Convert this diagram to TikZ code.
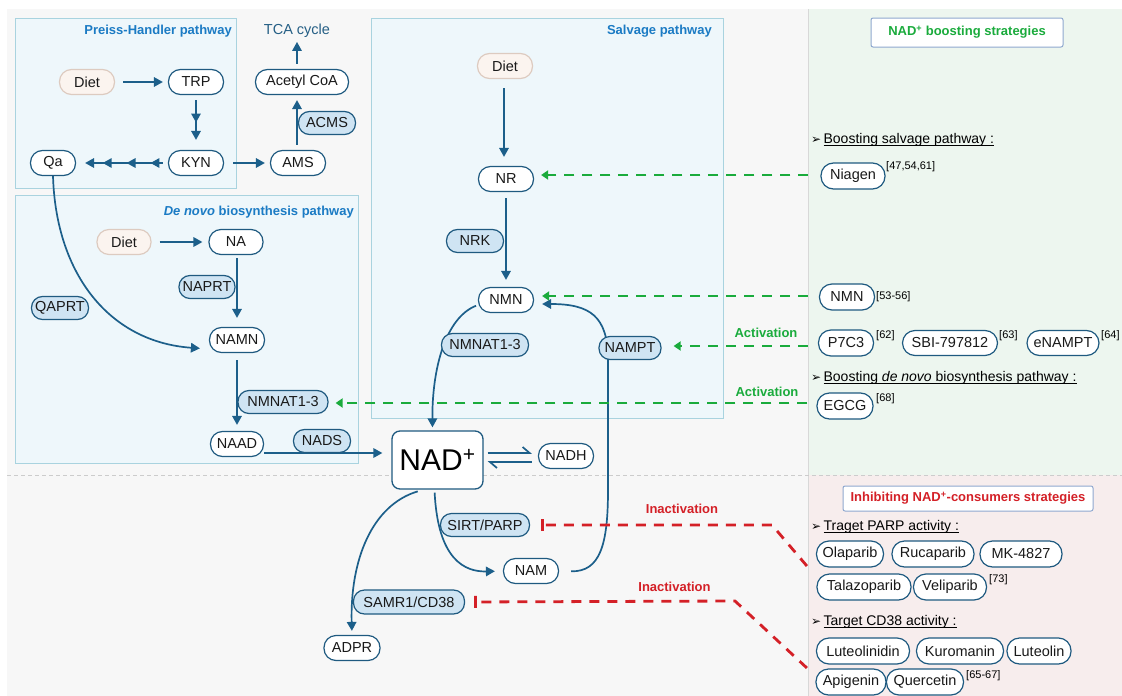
\documentclass[tikz,border=0pt]{standalone}
\usepackage{fontspec}
\setmainfont{Liberation Sans}
\newfontfamily\dejavu{DejaVu Sans}
\usetikzlibrary{arrows.meta,decorations.markings,calc}
\newcommand\ulx[1]{\setbox0\hbox{#1}\rlap{\rule[-2pt]{\wd0}{0.7pt}}\box0}
\newcommand\bul{{\dejavu\fontsize{12}{12}\selectfont ➢}\,}
\pgfdeclarelayer{bg}
\pgfdeclarelayer{conn}
\pgfsetlayers{bg,conn,main}
\definecolor{nb}{HTML}{1F5A80}
\definecolor{ab}{HTML}{1C5F8A}
\definecolor{enz}{HTML}{CFE4F3}
\definecolor{boxf}{HTML}{EEF7FB}
\definecolor{boxd}{HTML}{A9D3DF}
\definecolor{ttl}{HTML}{1B7BC4}
\definecolor{gr}{HTML}{1AAB3C}
\definecolor{rd}{HTML}{D42027}
\definecolor{bgc}{HTML}{F7F7F7}
\definecolor{gpan}{HTML}{EDF6EF}
\definecolor{ppan}{HTML}{F7EDED}
\definecolor{dietf}{HTML}{FBF4EF}
\definecolor{dietd}{HTML}{DDCBC0}
\definecolor{hdrd}{HTML}{8FA8CF}
\definecolor{tca}{HTML}{255F85}
\definecolor{sepc}{HTML}{D8D8D8}
\tikzset{ftip/.tip={Triangle[length=9pt,width=9.5pt]}}
\begin{document}
\begin{tikzpicture}[x=1pt,y=-1pt,
  pill/.style={draw=nb, line width=1.2pt, fill=white, rounded corners=12pt,
    minimum height=25pt, inner sep=0pt, text=black!90, font=\fontsize{14.5}{16}\selectfont},
  enzyme/.style={pill, fill=enz, minimum height=23pt, rounded corners=11pt},
  diet/.style={pill, fill=dietf, draw=dietd},
  rpill/.style={pill, minimum height=26pt, rounded corners=12.5pt},
  sup/.style={inner sep=0pt, anchor=west, font=\fontsize{11}{12}\selectfont},
  ttlstyle/.style={inner sep=0pt, anchor=east, text=ttl, font=\fontsize{13}{15}\selectfont\bfseries},
  pbox/.style={fill=boxf, draw=boxd, line width=1pt},
  hdr/.style={draw=hdrd, line width=1pt, fill=white, rounded corners=2pt, inner sep=0pt,
    font=\fontsize{13}{15}\selectfont\bfseries},
  sect/.style={inner sep=0pt, anchor=west, font=\fontsize{14}{16}\selectfont},
  flow/.style={draw=ab, line width=1.7pt, -ftip},
  actv/.style={draw=gr, line width=2.8pt, dash pattern=on 10pt off 8pt, -{Triangle[length=7pt,width=9pt]}},
  inhib/.style={draw=rd, line width=2.8pt, dash pattern=on 10pt off 8pt, -{Bar[width=12pt]}},
  lbl/.style={inner sep=0pt, font=\fontsize{13}{15}\selectfont\bfseries}
]
\useasboundingbox (0,0) rectangle (1122,696);
\begin{pgfonlayer}{bg}
\fill[white] (0,0) rectangle (1122,696);
\fill[bgc] (7,9) rectangle (808,696);
\fill[gpan] (808,9) rectangle (1122,475);
\fill[ppan] (808,475) rectangle (1122,696);
\draw[sepc, line width=1pt] (808,9) -- (808,696);
\draw[black!20, dash pattern=on 4pt off 3pt, line width=0.8pt] (7,475) -- (1122,475);
\draw[pbox] (15,18) rectangle (236,188);
\draw[pbox] (15,195) rectangle (358,463);
\draw[pbox] (371,18) rectangle (723,418);
\end{pgfonlayer}

% titles
\node[ttlstyle] (tPH) at (232,31) {Preiss-Handler pathway};
\node[ttlstyle] (tDN) at (354,212) {\textit{De novo} biosynthesis pathway};
\node[ttlstyle] (tSV) at (712,31) {Salvage pathway};
\node[inner sep=0pt, text=tca, font=\fontsize{14.5}{16}\selectfont] (tca) at (297,31) {TCA cycle};

% Preiss-Handler
\node[diet, minimum width=55pt] (diet1) at (87,82) {Diet};
\node[pill, minimum width=55pt] (TRP) at (196,82) {TRP};
\node[pill, minimum width=55pt] (KYN) at (196,163) {KYN};
\node[pill, minimum width=45pt] (Qa) at (53,163) {Qa};
\node[pill, minimum width=55pt] (AMS) at (298,163) {AMS};
\node[pill, minimum width=93pt] (ACoA) at (302,82) {Acetyl CoA};
\node[enzyme, minimum width=57pt] (ACMS) at (327,123) {ACMS};

% De novo
\node[diet, minimum width=54pt] (diet2) at (124,242) {Diet};
\node[pill, minimum width=54pt] (NA) at (236,242) {NA};
\node[enzyme, minimum width=56pt] (NAPRT) at (207,287) {NAPRT};
\node[pill, minimum width=55pt] (NAMN) at (237,340) {NAMN};
\node[enzyme, minimum width=57pt] (QAPRT) at (60,308) {QAPRT};
\node[enzyme, minimum width=90pt] (NMNATd) at (283,402) {NMNAT1-3};
\node[pill, minimum width=53pt] (NAAD) at (237,444) {NAAD};
\node[enzyme, minimum width=57pt] (NADS) at (322,441) {NADS};

% Salvage
\node[diet, minimum width=55pt] (diet3) at (505,66) {Diet};
\node[pill, minimum width=55pt] (NR) at (506,179) {NR};
\node[enzyme, minimum width=57pt] (NRK) at (475,241) {NRK};
\node[pill, minimum width=55pt] (NMN) at (506,300) {NMN};
\node[enzyme, minimum width=87pt] (NMNATs) at (485,345) {NMNAT1-3};
\node[enzyme, minimum width=62pt] (NAMPT) at (630,348) {NAMPT};

% Centre
\node[draw=nb, line width=1.3pt, fill=white, rounded corners=8pt, minimum width=91pt,
  minimum height=58pt, inner sep=0pt, font=\fontsize{30}{32}\selectfont] (NAD) at (437.5,460) {NAD\textsuperscript{+}};
\node[pill, minimum width=55pt] (NADH) at (566,456) {NADH};
\node[enzyme, minimum width=89pt] (SIRT) at (485,525) {SIRT/PARP};
\node[pill, minimum width=55pt] (NAM) at (531,571) {NAM};
\node[enzyme, minimum width=111pt, minimum height=24pt] (SAMR) at (409,602) {SAMR1/CD38};
\node[pill, minimum width=56pt] (ADPR) at (352,648) {ADPR};

% Right green panel
\node[hdr, text=gr, minimum width=192pt, minimum height=29pt] (hG) at (967,32.5) {NAD\textsuperscript{+} boosting strategies};
\node[sect] (s1) at (811,140) {\bul\ulx{Boosting salvage pathway :}};
\node[rpill, minimum width=64pt] (Niagen) at (853,176) {Niagen};
\node[sup] (r1) at (886,167) {[47,54,61]};
\node[rpill, minimum width=55pt] (NMNr) at (847,297) {NMN};
\node[sup] (r2) at (876,297) {[53-56]};
\node[rpill, minimum width=55pt] (P7C3) at (846,343) {P7C3};
\node[sup] (r3) at (876,336) {[62]};
\node[rpill, minimum width=95pt, minimum height=25pt] (SBI) at (950,343) {SBI-797812};
\node[sup] (r4) at (999,336) {[63]};
\node[rpill, minimum width=72pt, minimum height=25pt] (eNAMPT) at (1063,343) {eNAMPT};
\node[sup] (r5) at (1101,336) {[64]};
\node[sect] (s2) at (811,378) {\bul\ulx{Boosting {\itshape de novo} biosynthesis pathway :}};
\node[rpill, minimum width=56pt] (EGCG) at (845,406) {EGCG};
\node[sup] (r6) at (876,399) {[68]};

% Right pink panel
\node[hdr, text=rd, minimum width=250pt, minimum height=25pt] (hR) at (968,498.5) {Inhibiting NAD\textsuperscript{+}-consumers strategies};
\node[sect] (s3) at (811,527) {\bul\ulx{Traget PARP activity :}};
\node[rpill, minimum width=67pt] (Olap) at (850,554) {Olaparib};
\node[rpill, minimum width=82pt] (Ruca) at (933,554) {Rucaparib};
\node[rpill, minimum width=82pt] (MK) at (1021,554) {MK-4827};
\node[rpill, minimum width=94pt] (Tala) at (864,587) {Talazoparib};
\node[rpill, minimum width=73pt] (Veli) at (950,587) {Veliparib};
\node[sup] (r7) at (989,580) {[73]};
\node[sect] (s4) at (811,622) {\bul\ulx{Target CD38 activity :}};
\node[rpill, minimum width=93pt] (Lutn) at (863,651) {Luteolinidin};
\node[rpill, minimum width=87pt] (Kuro) at (960,651) {Kuromanin};
\node[rpill, minimum width=64pt] (Lute) at (1039,651) {Luteolin};
\node[rpill, minimum width=70pt] (Apig) at (851,682) {Apigenin};
\node[rpill, minimum width=77pt] (Quer) at (925,682) {Quercetin};
\node[sup] (r8) at (966,676) {[65-67]};

% labels
\node[lbl, text=gr] (a1) at (766,333) {Activation};
\node[lbl, text=gr] (a2) at (767,392) {Activation};
\node[lbl, text=rd] (i1) at (682,509) {Inactivation};
\node[lbl, text=rd] (i2) at (674.5,587) {Inactivation};

\coordinate (c1) at (608,490);
\coordinate (c2) at (608,360);
\coordinate (k1) at (772,525);
\coordinate (k2) at (735,601);

\begin{pgfonlayer}{conn}
% Preiss-Handler
\draw[flow, shorten <=8pt, shorten >=5pt] (diet1.east) -- (TRP.west);
\draw[flow, shorten <=5pt, shorten >=10pt,
  postaction={decorate}, decoration={markings, mark=at position 0.5 with {\arrow{ftip}}}] (TRP.south) -- (KYN.north);
\draw[flow, shorten <=5pt, shorten >=9pt,
  postaction={decorate}, decoration={markings,
    mark=at position 0.19 with {\arrow{ftip}},
    mark=at position 0.45 with {\arrow{ftip}},
    mark=at position 0.71 with {\arrow{ftip}}}] (KYN.west) -- (Qa.east);
\draw[flow, shorten <=9pt, shorten >=5pt] (KYN.east) -- (AMS.west);
\draw[flow, shorten <=5pt, shorten >=5pt] ([xshift=-1pt]AMS.north) -- ([xshift=-5pt]ACoA.south);
\draw[flow, shorten <=5pt, shorten >=4pt] ([xshift=-5pt]ACoA.north) -- (tca.south);
% De novo
\draw[flow, shorten <=8pt, shorten >=6pt] (diet2.east) -- (NA.west);
\draw[flow, shorten <=3pt, shorten >=9pt] ([xshift=1pt]NA.south) -- (NAMN.north);
\draw[flow, shorten >=9pt] (Qa.south) .. controls (56,275) and (110,342) .. ([yshift=-9pt]NAMN.west);
\draw[flow, shorten <=7pt, shorten >=6pt] (NAMN.south) -- (NAAD.north);
\draw[flow, shorten >=9pt] ([yshift=-9pt]NAAD.east) -- ([yshift=7pt]NAD.west);
% Salvage
\draw[flow, shorten <=9pt, shorten >=9pt] ([xshift=-1pt]diet3.south) -- ([xshift=-2pt]NR.north);
\draw[flow, shorten <=6pt, shorten >=7pt] (NR.south) -- (NMN.north);
\draw[flow, shorten <=2pt, shorten >=3pt] ([yshift=-5pt]NMN.west) .. controls (445,318) and (432,370) .. ([xshift=-5pt]NAD.north);
\draw[flow, shorten <=12pt, shorten >=8pt] (NAM.east) .. controls (600,572) and (608,545) .. (c1) -- (c2)
   .. controls (608,316) and (590,304) .. ([yshift=-4pt]NMN.east);
% Centre
\draw[draw=ab, line width=1.7pt, -{Straight Barb[left,length=7pt,width=12pt]}, shorten <=4pt, shorten >=6pt]
   ([yshift=7pt]NAD.east) -- ([yshift=3pt]NADH.west);
\draw[draw=ab, line width=1.7pt, -{Straight Barb[left,length=7pt,width=12pt]}, shorten <=6pt, shorten >=4pt]
   ([yshift=-6pt]NADH.west) -- ([yshift=-2pt]NAD.east);
\draw[flow, shorten <=3pt, shorten >=8pt] ([xshift=-3pt]NAD.south) .. controls (438,560) and (465,572) .. (NAM.west);
\draw[flow, shorten <=6pt, shorten >=4pt] ([xshift=-14pt]NAD.south) .. controls (372,505) and (350,560) .. (ADPR.north);
% activation
\draw[actv, shorten <=12pt, shorten >=7pt] ([yshift=1pt]Niagen.west) -- ([yshift=4pt]NR.east);
\draw[actv, shorten <=11pt, shorten >=8pt] ([yshift=1pt]NMNr.west) -- ([yshift=4pt]NMN.east);
\draw[actv, shorten <=10pt, shorten >=12pt] ([yshift=-3pt]P7C3.west) -- ([yshift=2pt]NAMPT.east);
\draw[actv, shorten <=9pt, shorten >=7pt] ([yshift=3pt]EGCG.west) -- ([yshift=-1pt]NMNATd.east);
% inhibition
\draw[inhib, shorten >=11pt] ([shift={(-9pt,-12pt)}]Olap.west) -- (k1) -- (SIRT.east);
\draw[inhib, shorten >=9pt] ([shift={(-9pt,-17pt)}]Lutn.west) -- (k2) -- (SAMR.east);
\end{pgfonlayer}
\end{tikzpicture}
\end{document}
